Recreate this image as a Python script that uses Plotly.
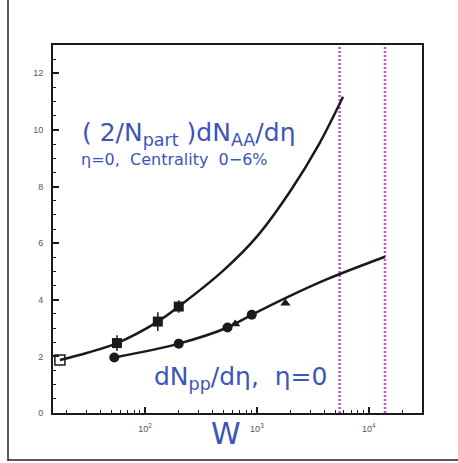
import plotly.graph_objects as go

# Measured points: (2/Npart) dN/deta for central AA, and dN/deta for pp, at eta = 0
sps_w = [17.3]
sps_y = [1.87]

aa_w = [56, 130, 200]
aa_y = [2.47, 3.23, 3.76]
aa_err = [0.28, 0.33, 0.22]

pp_circle_w = [53, 200, 546, 900]
pp_circle_y = [1.96, 2.45, 3.02, 3.47]

pp_tri_w = [640, 1800]
pp_tri_y = [3.14, 3.88]

# Extrapolation curves
aa_curve_w = [17.3, 30, 56, 130, 200, 500, 1000, 2000, 3600, 5900]
aa_curve_y = [1.87, 2.12, 2.47, 3.23, 3.76, 5.03, 6.23, 7.85, 9.5, 11.17]

pp_curve_w = [53, 200, 546, 900, 1800, 4200, 14000]
pp_curve_y = [1.96, 2.45, 3.02, 3.47, 4.06, 4.72, 5.52]

# LHC energies
lhc_w = [5500, 14000]

# Axis ticks
y_range = [0, 13]
x_major = [100, 1000, 10000]
x_major_text = ["10<sup>2</sup>", "10<sup>3</sup>", "10<sup>4</sup>"]
x_minor = [m * d for d in (10, 100, 1000, 10000) for m in range(2, 10)]

W, H = 458, 463
ML, MR, MT, MB = 53, 36, 45, 50
PW, PH = W - ML - MR, H - MT - MB

BLUE = "#3d55b5"
MAGENTA = "#c74fbf"
INK = "#1a1a1a"


def px(xp):
    return (xp - ML) / PW


def py(yp):
    return (H - MB - yp) / PH


fig = go.Figure()

for w in lhc_w:
    fig.add_trace(go.Scatter(x=[w, w], y=y_range, mode="lines",
                             line=dict(color=MAGENTA, width=2.5, dash="2px,2px"),
                             hoverinfo="skip"))

fig.add_trace(go.Scatter(x=aa_curve_w, y=aa_curve_y, mode="lines",
                         line=dict(color=INK, width=2.5, shape="spline", smoothing=1.0)))
fig.add_trace(go.Scatter(x=pp_curve_w, y=pp_curve_y, mode="lines",
                         line=dict(color=INK, width=2.5, shape="spline", smoothing=1.0)))

fig.add_trace(go.Scatter(x=pp_circle_w, y=pp_circle_y, mode="markers",
                         marker=dict(symbol="circle", size=10, color=INK)))
fig.add_trace(go.Scatter(x=pp_tri_w, y=pp_tri_y, mode="markers",
                         marker=dict(symbol="triangle-up", size=9, color=INK)))
fig.add_trace(go.Scatter(x=aa_w, y=aa_y, mode="markers",
                         error_y=dict(type="data", array=aa_err, color=INK, thickness=1.5, width=0),
                         marker=dict(symbol="square", size=10, color=INK)))
fig.add_trace(go.Scatter(x=sps_w, y=sps_y, mode="markers",
                         marker=dict(symbol="square-open", size=10, color=INK,
                                     line=dict(width=1.5, color=INK))))

tick_font = dict(family="Liberation Sans, Arial, sans-serif", size=9, color="#555555")

fig.update_xaxes(type="log", range=[1.1761, 4.4771],
                 tickmode="array", tickvals=x_major, ticktext=x_major_text,
                 ticks="inside", ticklen=6, tickwidth=1.5, tickcolor=INK,
                 minor=dict(tickmode="array", tickvals=x_minor, ticks="inside",
                            ticklen=3, tickwidth=1.2, tickcolor=INK, showgrid=False),
                 showline=True, linewidth=2, linecolor=INK, mirror=True,
                 showgrid=False, zeroline=False, tickfont=tick_font,
                 ticklabelstandoff=6)
fig.update_yaxes(range=y_range, dtick=2, tick0=0,
                 ticks="inside", ticklen=6, tickwidth=1.5, tickcolor=INK,
                 minor=dict(dtick=0.5, ticks="inside", ticklen=3, tickwidth=1.2,
                            tickcolor=INK, showgrid=False),
                 showline=True, linewidth=2, linecolor=INK, mirror=True,
                 showgrid=False, zeroline=False, tickfont=tick_font,
                 ticklabelstandoff=6)

big = dict(family="DejaVu Sans, sans-serif", size=25, color=BLUE)
small = dict(family="DejaVu Sans, sans-serif", size=16, color=BLUE)

fig.add_annotation(xref="paper", yref="paper", x=px(80), y=py(134),
                   xanchor="left", yanchor="middle", showarrow=False,
                   text="( 2/N<sub>part</sub> )dN<sub>AA</sub>/dη", font=big)
fig.add_annotation(xref="paper", yref="paper", x=px(79), y=py(159),
                   xanchor="left", yanchor="middle", showarrow=False,
                   text="η=0,  Centrality  0−6%", font=small)
fig.add_annotation(xref="paper", yref="paper", x=px(152), y=py(378),
                   xanchor="left", yanchor="middle", showarrow=False,
                   text="dN<sub>pp</sub>/dη,  η=0", font=big)
fig.add_annotation(xref="paper", yref="paper", x=px(226), y=py(433),
                   xanchor="center", yanchor="middle", showarrow=False,
                   text="W", font=dict(family="DejaVu Sans, sans-serif", size=30, color=BLUE))

# Outer page frame (left and bottom edges)
fig.add_shape(type="line", xref="paper", yref="paper",
              x0=px(8), x1=px(8), y0=py(461), y1=py(-2),
              line=dict(color="#222222", width=1.5))
fig.add_shape(type="line", xref="paper", yref="paper",
              x0=px(8), x1=px(460), y0=py(460), y1=py(460),
              line=dict(color="#222222", width=1.5))

fig.update_layout(width=W, height=H, margin=dict(l=ML, r=MR, t=MT, b=MB),
                  paper_bgcolor="white", plot_bgcolor="white", showlegend=False)

fig.write_html("out.html")
